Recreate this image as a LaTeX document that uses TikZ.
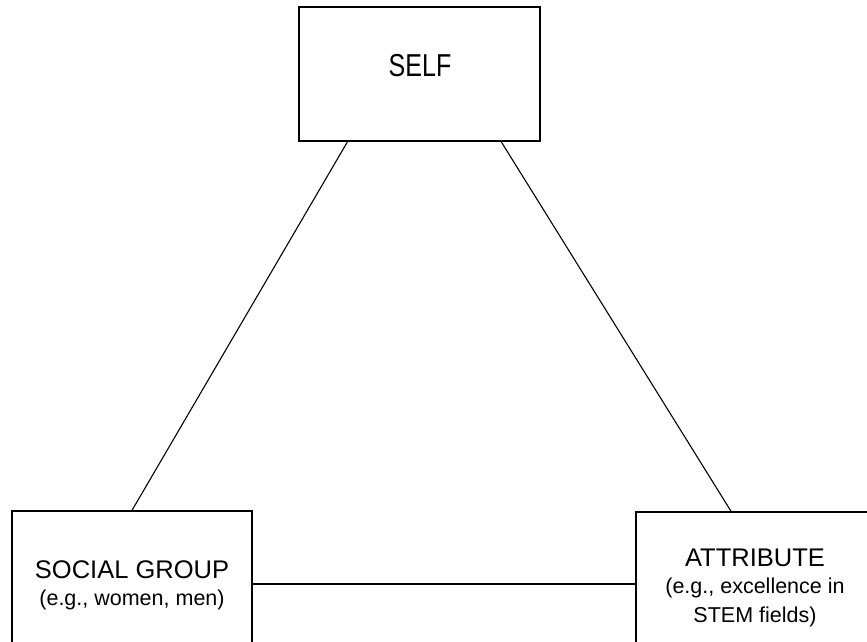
\documentclass[tikz,border=0pt]{standalone}
\usepackage{fontspec}
\setmainfont{Liberation Sans}
\usetikzlibrary{calc}
\begin{document}
\begin{tikzpicture}[x=1pt,y=-1pt,
  box/.style={draw,line width=1.3pt,inner sep=0pt},
  link/.style={line width=1.1pt},
  mainlbl/.style={anchor=base,inner sep=0pt,font=\fontsize{25.5}{30}\selectfont},
  sublbl/.style={anchor=base,inner sep=0pt,font=\fontsize{21.5}{26}\selectfont}]
\useasboundingbox (0,0) rectangle (867,642);
\clip (0,0) rectangle (867,642);
\fill[white] (0,0) rectangle (867,642);
% boxes
\node[box,minimum width=241pt,minimum height=134pt] (self) at (419.5,74) {};
\node[box,minimum width=240pt,minimum height=146pt] (social) at (132,584) {};
\node[box,minimum width=238pt,minimum height=144pt] (attr) at (755,584) {};
% labels
\node[anchor=base,inner sep=0pt] (selft) at (420,76) {\scalebox{0.79}[1]{\fontsize{31.7}{36}\selectfont SELF}};
\node[mainlbl] (socialt) at (132,578) {SOCIAL GROUP};
\node[sublbl] (socials) at (132,605) {(e.g., women, men)};
\node[mainlbl] (attrt) at (755,566) {ATTRIBUTE};
\node[sublbl] (attrs1) at (755,593) {(e.g., excellence in};
\node[sublbl] (attrs2) at (755,622) {STEM fields)};
% connector end points on the boxes
\coordinate (selfL) at ($(self.south west)!0.203!(self.south east)$);
\coordinate (selfR) at ($(self.south west)!0.837!(self.south east)$);
\coordinate (socialTop) at (social.north);
\coordinate (attrTop) at ($(attr.north west)!0.40!(attr.north east)$);
% connectors
\draw[link] (selfL) -- (socialTop);
\draw[link] (selfR) -- (attrTop);
\draw[link] (social) -- (attr);
\end{tikzpicture}
\end{document}
